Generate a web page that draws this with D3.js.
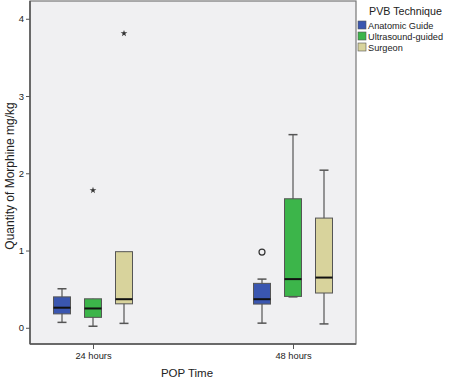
<!DOCTYPE html>
<html>
<head>
<meta charset="utf-8">
<script src="https://cdn.jsdelivr.net/npm/d3@7"></script>
<style>
  body { margin: 0; background: #fff; }
  text { font-family: "Liberation Sans", Arial, sans-serif; fill: #222; }
</style>
</head>
<body>
<svg id="chart" width="453" height="380"></svg>
<script>
// categories and groups
const times = ["24 hours", "48 hours"]
const techniques = ["Anatomic Guide", "Ultrasound-guided", "Surgeon"]
const techColors = ["#3a56b0", "#3cb54a", "#d8d39c"]

// box stats per time, per technique: [min whisker, Q1, median, Q3, max whisker]
const stats24 = [
    [0.07, 0.18, 0.26, 0.40, 0.505],
    [0.02, 0.135, 0.25, 0.375, 0.375],
    [0.057, 0.31, 0.37, 0.985, 0.985]
]
const stats48 = [
    [0.06, 0.307, 0.37, 0.575, 0.63],
    [0.40, 0.406, 0.63, 1.67, 2.50],
    [0.05, 0.45, 0.65, 1.42, 2.04]
]
// outliers: [time index, technique index, value, kind]
const outliers = [
    [0, 1, 1.78, "star"],
    [0, 2, 3.81, "star"],
    [1, 0, 0.98, "circle"]
]
const yTicks = [0, 1, 2, 3, 4]

const svg = d3.select("#chart")
const mLeft = 30, mRight = 356, mTop = 1, mBottom = 344

const x = d3.scalePoint().domain(times).range([mLeft, mRight]).padding(0.315)
const y = d3.scaleLinear().domain([-0.21, 4.23]).range([mBottom, mTop])
const offset = d3.scalePoint().domain(techniques).range([-31, 31])
const color = d3.scaleOrdinal().domain(techniques).range(techColors)

// plot background
svg.append("rect")
    .attr("x", mLeft).attr("y", mTop)
    .attr("width", mRight - mLeft).attr("height", mBottom - mTop)
    .attr("fill", "#f0f0f2")
    .attr("stroke", "#777")
    .attr("stroke-width", 1.2)

// axes
const yAxis = svg.append("g")
    .attr("transform", `translate(${mLeft},0)`)
    .call(d3.axisLeft(y).tickValues(yTicks).tickSize(4).tickPadding(2).tickFormat(d3.format("d")))
yAxis.select(".domain").remove()
yAxis.selectAll("line").attr("stroke", "#555")
yAxis.selectAll("text").attr("font-size", 9.5).style("font-family", "Liberation Sans, Arial, sans-serif")

const xAxis = svg.append("g")
    .attr("transform", `translate(0,${mBottom})`)
    .call(d3.axisBottom(x).tickSize(5).tickPadding(3))
xAxis.select(".domain").remove()
xAxis.selectAll("line").attr("stroke", "#555")
xAxis.selectAll("text").attr("font-size", 9.3).style("font-family", "Liberation Sans, Arial, sans-serif")

// heavier left/bottom axis lines
svg.append("line").attr("x1", mLeft).attr("x2", mLeft).attr("y1", mTop).attr("y2", mBottom)
    .attr("stroke", "#555").attr("stroke-width", 1.5)
svg.append("line").attr("x1", mLeft).attr("x2", mRight).attr("y1", mBottom).attr("y2", mBottom)
    .attr("stroke", "#555").attr("stroke-width", 1.5)

// boxes
const boxW = 17, capW = 9
const rows = []
times.forEach((t, ti) => {
    const s = ti === 0 ? stats24 : stats48
    techniques.forEach((k, ki) => rows.push({ t, k, v: s[ki] }))
})

const g = svg.selectAll("g.box").data(rows).enter().append("g")
    .attr("class", "box")
    .attr("transform", d => `translate(${x(d.t) + offset(d.k)},0)`)

g.append("line")
    .attr("x1", 0).attr("x2", 0)
    .attr("y1", d => y(d.v[0])).attr("y2", d => y(d.v[4]))
    .attr("stroke", "#555").attr("stroke-width", 1.2)
g.filter(d => d.v[4] > d.v[3]).append("line")
    .attr("x1", -capW / 2).attr("x2", capW / 2)
    .attr("y1", d => y(d.v[4])).attr("y2", d => y(d.v[4]))
    .attr("stroke", "#555").attr("stroke-width", 1.5)
g.filter(d => d.v[0] < d.v[1]).append("line")
    .attr("x1", -capW / 2).attr("x2", capW / 2)
    .attr("y1", d => y(d.v[0])).attr("y2", d => y(d.v[0]))
    .attr("stroke", "#555").attr("stroke-width", 1.5)
g.append("rect")
    .attr("x", -boxW / 2).attr("width", boxW)
    .attr("y", d => y(d.v[3]))
    .attr("height", d => y(d.v[1]) - y(d.v[3]))
    .attr("fill", d => color(d.k))
    .attr("stroke", "#555").attr("stroke-width", 1)
g.append("line")
    .attr("x1", -boxW / 2).attr("x2", boxW / 2)
    .attr("y1", d => y(d.v[2])).attr("y2", d => y(d.v[2]))
    .attr("stroke", "#111").attr("stroke-width", 2)

// outliers
outliers.forEach(o => {
    const cx = x(times[o[0]]) + offset(techniques[o[1]])
    const cy = y(o[2])
    if (o[3] === "star") {
        svg.append("path")
            .attr("d", d3.symbol(d3.symbolStar, 14)())
            .attr("transform", `translate(${cx},${cy})`)
            .attr("fill", "#333")
    } else {
        svg.append("circle")
            .attr("cx", cx).attr("cy", cy).attr("r", 3)
            .attr("fill", "none").attr("stroke", "#333").attr("stroke-width", 1.2)
    }
})

// axis titles
svg.append("text")
    .attr("x", 187).attr("y", 377)
    .attr("text-anchor", "middle")
    .attr("font-size", 11.5)
    .text("POP Time")
svg.append("text")
    .attr("transform", "translate(14,176) rotate(-90)")
    .attr("text-anchor", "middle")
    .attr("font-size", 12)
    .text("Quantity of Morphine mg/kg")

// legend
svg.append("text")
    .attr("x", 369).attr("y", 15)
    .attr("font-size", 10.7)
    .text("PVB Technique")
const leg = svg.selectAll("g.leg").data(techniques).enter().append("g")
    .attr("class", "leg")
    .attr("transform", (d, i) => `translate(358,${21 + i * 11})`)
leg.append("rect")
    .attr("width", 8).attr("height", 8)
    .attr("fill", d => color(d))
    .attr("stroke", "#555").attr("stroke-width", 0.6)
leg.append("text")
    .attr("x", 10).attr("y", 7.5)
    .attr("font-size", 9.2)
    .text(d => d)
</script>
</body>
</html>
